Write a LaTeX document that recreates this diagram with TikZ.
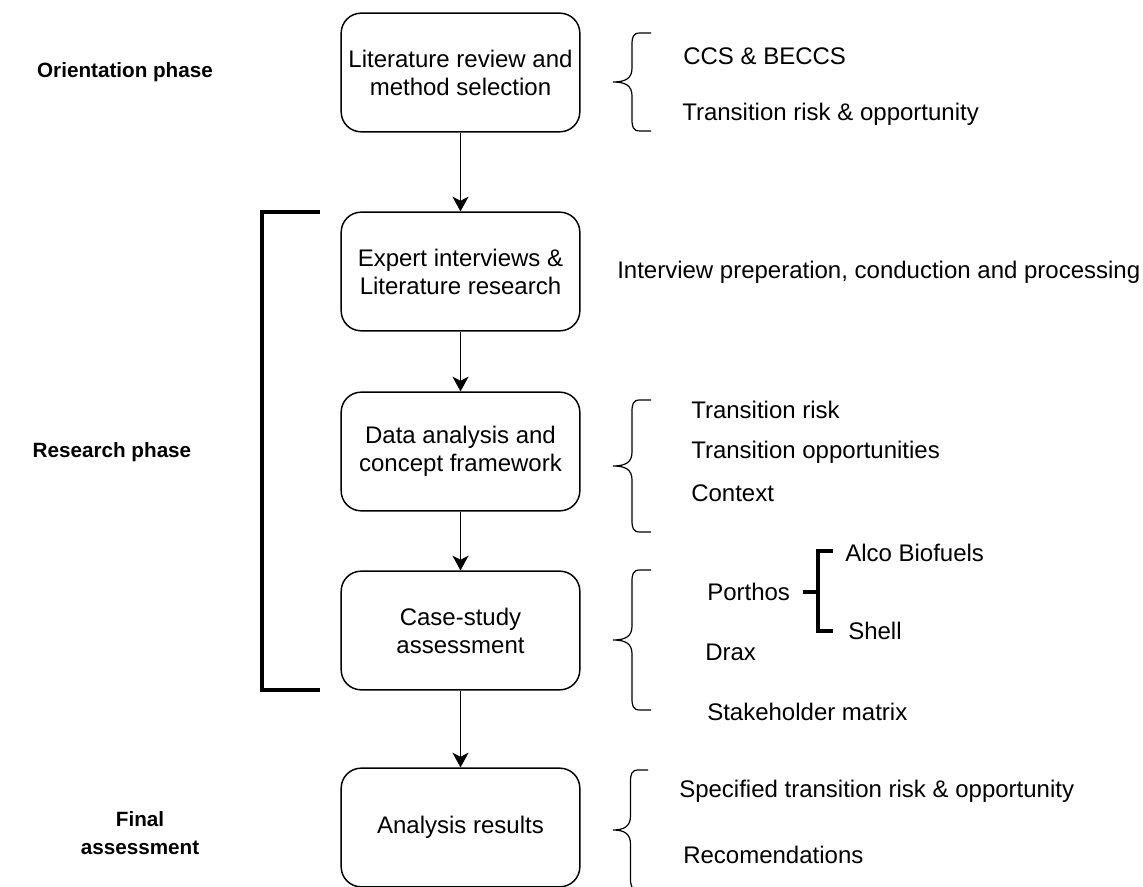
\documentclass[tikz,border=0pt]{standalone}
\usepackage{fontspec}
\setmainfont{Liberation Sans}
\usetikzlibrary{arrows.meta}
\newcommand\curlybrace[4]{% #1 right x, #2 tip x, #3 top y, #4 bottom y
  \pgfmathsetmacro\bxv{(#1+#2)/2}%
  \pgfmathsetmacro\bym{(#3+#4)/2}%
  \draw[bracestyle] (#1,#3) -- (\bxv+8,#3) .. controls (\bxv+1,#3) and (\bxv,#3+4) .. (\bxv,#3+12)
    -- (\bxv,\bym-14) .. controls (\bxv,\bym-4) and (\bxv-6,\bym) .. (#2,\bym)
    .. controls (\bxv-6,\bym) and (\bxv,\bym+4) .. (\bxv,\bym+14)
    -- (\bxv,#4-12) .. controls (\bxv,#4-4) and (\bxv+1,#4) .. (\bxv+8,#4) -- (#1,#4);%
}
\begin{document}
\begin{tikzpicture}[x=0.75pt,y=-0.75pt,
  every node/.style={font=\fontsize{18}{21}\selectfont},
  stepbox/.style={draw, line width=1.1pt, rounded corners=15pt, minimum width=179pt, minimum height=89pt, align=center, inner sep=0pt},
  arr/.style={line width=1.1pt, -{Stealth[length=11pt,width=12pt,inset=3pt]}},
  bracestyle/.style={line width=0.9pt},
  heavy/.style={line width=2.3pt},
  item/.style={anchor=west, inner sep=0pt},
  phase/.style={font=\fontsize{15.5}{21}\selectfont\bfseries, align=center, inner sep=0pt}]
\useasboundingbox (0,0) rectangle (1143,887);
% boxes
\node[stepbox] (b1) at (460.5,72.5) {Literature review and\\method selection};
\node[stepbox] (b2) at (460.5,271.5) {Expert interviews \&\\Literature research};
\node[stepbox] (b3) at (460.5,451.5) {Data analysis and\\concept framework};
\node[stepbox] (b4) at (460.5,630.5) {Case-study\\assessment};
\node[stepbox] (b5) at (460.5,827.5) {Analysis results};
\draw[arr] (b1) -- (b2);
\draw[arr] (b2) -- (b3);
\draw[arr] (b3) -- (b4);
\draw[arr] (b4) -- (b5);
% phase labels
\node[phase] (p1) at (125,72) {Orientation phase};
\node[phase] (p2) at (112,452) {Research phase};
\node[phase] (p3) at (140,833) {Final\\assessment};
% research bracket
\draw[heavy] (320,212) -- (262,212) -- (262,690) -- (320,690);
% braces
\curlybrace{651}{613}{33}{131}
\curlybrace{651}{613}{400}{532}
\curlybrace{651}{613}{570}{710}
\curlybrace{648}{613}{770}{890}
% items
\node[item] (t1) at (683,56) {CCS \& BECCS};
\node[item] (t2) at (682,114) {Transition risk \& opportunity};
\node[item] (t3) at (617,272) {Interview preperation, conduction and processing};
\node[item] (t4) at (691,410) {Transition risk};
\node[item] (t5) at (691,452) {Transition opportunities};
\node[item] (t6) at (691,493) {Context};
\node[item] (t7) at (707,592) {Porthos};
\node[item] (t8) at (705,652) {Drax};
\node[item] (t9) at (707,712) {Stakeholder matrix};
\node[item] (t10) at (845,553) {Alco Biofuels};
\node[item] (t11) at (848,631) {Shell};
\node[item] (t12) at (679,791) {Specified transition risk \& opportunity};
\node[item] (t13) at (683,855) {Recomendations};
% porthos bracket
\coordinate (pj) at (818,592);
\draw[heavy] (803,592) -- (pj);
\draw[heavy] (833,551) -- (818,551) -- (818,631) -- (833,631);
\end{tikzpicture}
\end{document}
